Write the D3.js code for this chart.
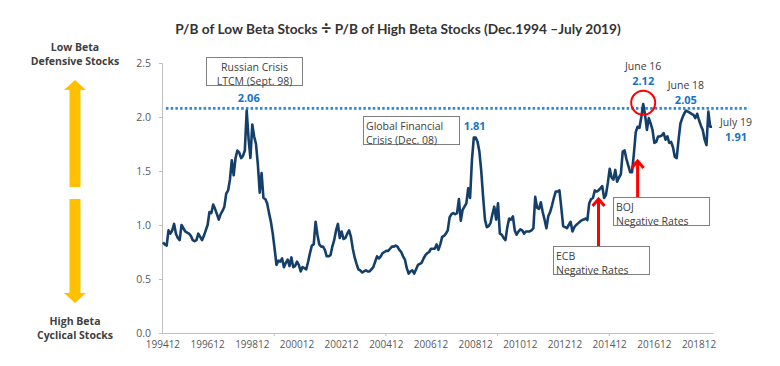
<!DOCTYPE html>
<html><head><meta charset="utf-8">
<script src="https://cdn.jsdelivr.net/npm/d3@7"></script>
<style>
html,body{margin:0;padding:0;background:#fff;}
svg{display:block;font-family:"Open Sans",sans-serif;}
</style></head>
<body>
<script>
// ---- DATA ----
const startMonth = "1994-12";           // first observation (Dec 1994), monthly to Jul 2019
const ratio = [
 0.84,0.82,0.81,0.95,0.92,0.95,1.01,0.92,0.88,0.86,1.00,0.97,
 0.94,0.93,0.92,0.90,0.86,0.85,0.86,0.92,0.89,0.86,0.90,0.95,
 1.00,1.12,1.11,1.19,1.15,1.10,1.05,1.10,1.13,1.17,1.29,1.32,
 1.42,1.60,1.46,1.62,1.69,1.67,1.62,1.64,1.69,2.06,1.80,1.62,
 1.93,1.82,1.75,1.56,1.30,1.48,1.25,1.24,1.20,1.11,1.03,0.92,
 0.78,0.63,0.67,0.66,0.69,0.61,0.65,0.68,0.62,0.70,0.61,0.62,
 0.66,0.63,0.57,0.61,0.60,0.59,0.66,0.74,0.81,0.82,1.03,0.91,
 0.82,0.80,0.80,0.77,0.71,0.71,0.72,0.80,0.86,0.95,1.01,0.88,
 0.94,0.87,0.88,0.92,0.95,0.89,0.78,0.70,0.64,0.59,0.58,0.56,
 0.57,0.58,0.57,0.57,0.59,0.61,0.66,0.71,0.69,0.71,0.74,0.75,
 0.76,0.76,0.78,0.80,0.80,0.81,0.80,0.77,0.75,0.71,0.68,0.60,
 0.55,0.57,0.58,0.55,0.59,0.63,0.64,0.65,0.69,0.72,0.74,0.75,
 0.78,0.78,0.78,0.82,0.77,0.82,0.89,0.90,0.92,0.95,1.07,1.10,
 1.11,1.10,1.11,1.24,1.04,1.14,1.17,1.20,1.34,1.25,1.60,1.81,
 1.81,1.77,1.68,1.50,1.26,1.05,0.98,0.99,1.02,1.10,1.17,1.05,
 1.20,0.92,0.91,0.88,0.86,0.98,1.06,1.05,1.08,0.95,0.91,0.94,
 0.96,0.95,0.92,0.94,0.94,0.94,0.95,0.97,1.26,1.16,1.15,1.21,
 1.12,1.05,0.97,1.08,1.12,1.18,1.25,1.31,1.31,1.32,1.16,0.99,
 0.98,0.97,1.00,1.03,0.94,0.98,1.00,1.015,1.03,1.045,1.05,1.06,
 1.045,1.20,1.24,1.25,1.32,1.31,1.32,1.34,1.36,1.25,1.28,1.39,
 1.52,1.44,1.42,1.51,1.40,1.44,1.47,1.68,1.69,1.61,1.55,1.49,
 1.49,1.66,1.86,1.91,1.90,2.00,2.12,2.02,1.88,1.99,1.94,1.88,
 1.76,1.77,1.82,1.82,1.83,1.85,1.79,1.82,1.76,1.77,1.72,1.63,
 1.62,1.79,1.94,1.99,2.03,2.06,2.05,2.04,2.03,2.02,1.99,2.03,
 1.97,1.92,1.88,1.79,1.74,2.05,1.91,1.91
];
const xTickLabels = ["199412","199612","199812","200012","200212","200412","200612",
                     "200812","201012","201212","201412","201612","201812"];
const yTicks = [0.0,0.5,1.0,1.5,2.0,2.5];
const threshold = 2.08;
const peaks = [ {label:"2.06", idx:45}, {label:"1.81", idx:168},
                {label:"2.12", idx:258, date:"June 16"}, {label:"2.05", idx:282, date:"June 18"},
                {label:"1.91", idx:295, date:"July 19"} ];
const events = [ {lines:["Russian Crisis","LTCM (Sept. 98)"]},
                 {lines:["Global Financial","Crisis (Dec. 08)"]},
                 {lines:["ECB","Negative Rates"], idx:234},
                 {lines:["BOJ","Negative Rates"], idx:255} ];
const titleA = "P/B of Low Beta Stocks ", titleOp = "\u00F7",
      titleB = " P/B of High Beta Stocks (Dec.1994 \u2013July 2019)";

// ---- CHART ----
const W = 780, H = 366;
const svg = d3.select("body").append("svg").attr("width", W).attr("height", H);

const n = ratio.length;
const idx = d3.range(n);
const x = d3.scaleBand().domain(idx).range([162, 713]).paddingInner(0).paddingOuter(0);
const bw = x.bandwidth();
const xc = i => x(i) + bw / 2;
const xb = d3.scaleLinear().domain([0, n]).range([162, 713]);
const y = d3.scaleLinear().domain([0, 2.5]).range([333, 63]);

const gray = "#404040", axisCol = "#bfbfbf", tickTxt = "#595959";
const blue = "#1473c6", navy = "#143f6b";

// title
const tt = svg.append("text").attr("x", 398).attr("y", 34).attr("text-anchor", "middle")
  .attr("font-family", "Lato").attr("font-size", 13.7).attr("font-weight", 700).attr("fill", "#333");
tt.append("tspan").text(titleA);
tt.append("tspan").attr("font-size", 18).attr("dy", 1).text(titleOp);
tt.append("tspan").attr("dy", -1).text(titleB);

// y axis
const ya = svg.append("g").attr("transform", "translate(162,0)")
  .call(d3.axisLeft(y).tickValues(yTicks).tickSize(3).tickPadding(8).tickFormat(d3.format(".1f")));
ya.select(".domain").attr("stroke", axisCol);
ya.selectAll(".tick line").attr("stroke", axisCol);
ya.selectAll(".tick text").attr("fill", tickTxt).attr("font-size", 10.5).attr("font-family", "Open Sans");

// x axis line + tick marks
const xa = svg.append("g").attr("transform", "translate(0,333)")
  .call(d3.axisBottom(xb).tickValues([60,120,180,240]).tickSize(3).tickSizeOuter(0).tickFormat(""));
xa.select(".domain").attr("stroke", axisCol);
xa.selectAll(".tick line").attr("stroke", axisCol);
// x labels
const labelIdx = xTickLabels.map((d, k) => k * 24);
const xl = svg.append("g").attr("transform", "translate(0,333)")
  .call(d3.axisBottom(x).tickValues(labelIdx).tickSize(0).tickPadding(8)
    .tickFormat((d, k) => xTickLabels[k]));
xl.select(".domain").remove();
xl.selectAll(".tick text").attr("fill", tickTxt).attr("font-size", 10).attr("font-family", "Open Sans");

// threshold dotted line
svg.append("line").attr("x1", 166).attr("x2", 749)
  .attr("y1", y(threshold)).attr("y2", y(threshold))
  .attr("stroke", "#2f87d8").attr("stroke-width", 2.6).attr("stroke-dasharray", "2.5,2.2");

// series line
const line = d3.line().x((d, i) => xc(i)).y(d => y(d)).curve(d3.curveLinear);
svg.append("path").datum(ratio).attr("d", line).attr("fill", "none")
  .attr("stroke", navy).attr("stroke-width", 2.6).attr("stroke-linejoin", "round");

// event boxes
function box(lines, x0, y0, w, h, anchor, tx) {
  svg.append("rect").attr("x", x0).attr("y", y0).attr("width", w).attr("height", h)
    .attr("fill", "#fff").attr("stroke", "#7f7f7f").attr("stroke-width", 1);
  lines.forEach((t, k) => {
    svg.append("text").attr("x", tx).attr("y", y0 + 13 + k * 14).attr("text-anchor", anchor)
      .attr("font-size", 10.5).attr("fill", gray).text(t);
  });
}
box(events[0].lines, 206.5, 57.5, 96, 28, "middle", 254.5);
box(events[1].lines, 363.5, 116.5, 96, 28, "start", 366);
box(events[2].lines, 553.5, 246.5, 96, 28, "start", 556);
box(events[3].lines, 613.5, 197.5, 96, 28, "start", 616);

// red arrows
function upArrow(cx, yTop, yBot) {
  svg.append("line").attr("x1", cx).attr("x2", cx).attr("y1", yBot).attr("y2", yTop + 2)
    .attr("stroke", "#ff0000").attr("stroke-width", 3);
  svg.append("path").attr("d", `M${cx - 6},${yTop + 8} L${cx},${yTop + 1} L${cx + 6},${yTop + 8}`)
    .attr("fill", "none").attr("stroke", "#ff0000").attr("stroke-width", 3);
}
upArrow(xc(events[2].idx), 198, 246);
upArrow(xc(events[3].idx), 160, 197);

// red circle at June 16 peak
svg.append("circle").attr("cx", xc(258)).attr("cy", 102.7).attr("r", 12)
  .attr("fill", "none").attr("stroke", "#ff0000").attr("stroke-width", 2);

// peak labels
function blueLbl(t, cx, by) {
  svg.append("text").attr("x", cx).attr("y", by).attr("text-anchor", "middle")
    .attr("font-size", 11).attr("font-weight", 700).attr("fill", blue).text(t);
}
function grayLbl(t, cx, by) {
  svg.append("text").attr("x", cx).attr("y", by).attr("text-anchor", "middle")
    .attr("font-size", 10.5).attr("fill", gray).text(t);
}
blueLbl(peaks[0].label, xc(peaks[0].idx) + 2, 101.5);
blueLbl(peaks[1].label, xc(peaks[1].idx) - 1, 129.5);
grayLbl(peaks[2].date, xc(peaks[2].idx), 70);
blueLbl(peaks[2].label, xc(peaks[2].idx), 85);
grayLbl(peaks[3].date, xc(peaks[3].idx) - 2, 89);
blueLbl(peaks[3].label, xc(peaks[3].idx) - 2, 104);
grayLbl(peaks[4].date, 736, 126);
blueLbl(peaks[4].label, 736, 141);

// left side labels
function leftLbl(t, by) {
  svg.append("text").attr("x", 75).attr("y", by).attr("text-anchor", "middle")
    .attr("font-size", 10.5).attr("font-weight", 700).attr("fill", gray).text(t);
}
leftLbl("Low Beta", 51);
leftLbl("Defensive Stocks", 65);
leftLbl("High Beta", 325);
leftLbl("Cyclical Stocks", 339);

// yellow arrows
const yel = "#ffc000";
svg.append("path").attr("d", "M75,80 L86,90 L80.5,90 L80.5,187 L69.5,187 L69.5,90 L64,90 Z").attr("fill", yel);
svg.append("path").attr("d", "M69.5,199 L80.5,199 L80.5,293 L86,293 L75,303 L64,293 L69.5,293 Z").attr("fill", yel);
</script>
</body></html>
